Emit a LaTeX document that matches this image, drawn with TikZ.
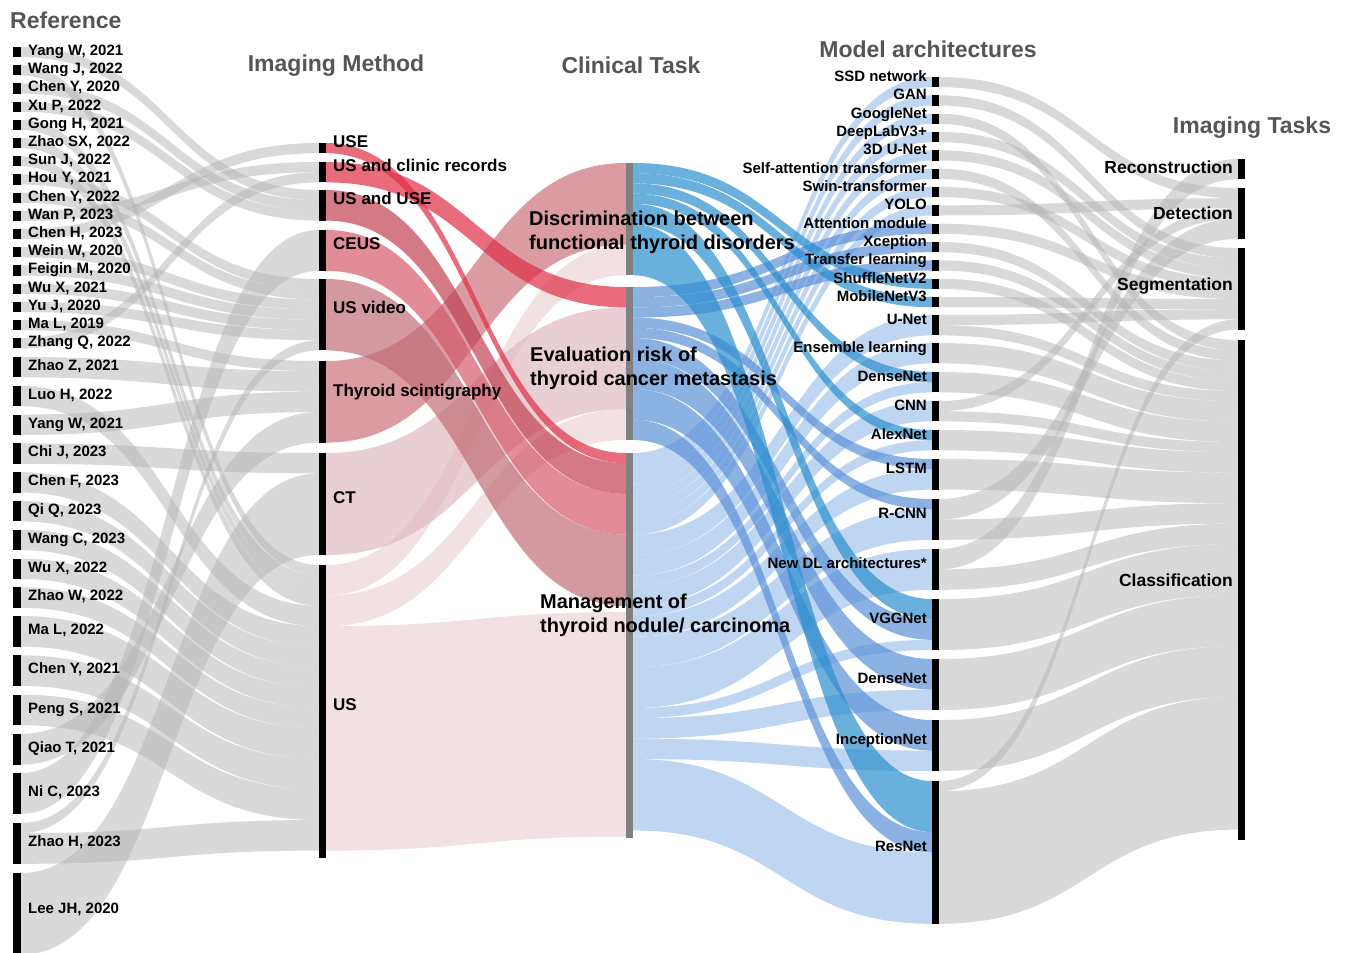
\documentclass[tikz,border=0pt]{standalone}
\usepackage{fontspec}
\setmainfont{Liberation Sans}
\usetikzlibrary{positioning,calc}

\definecolor{flowgray}{RGB}{179,179,179}
\definecolor{taskgray}{RGB}{128,128,128}
\definecolor{titlegray}{RGB}{84,86,86}
\definecolor{pkRed}{RGB}{222,45,68}
\definecolor{pkUSUSE}{RGB}{194,65,81}
\definecolor{pkCEUS}{RGB}{212,91,105}
\definecolor{pkVideo}{RGB}{194,109,119}
\definecolor{pkScint}{RGB}{202,112,122}
\definecolor{pkCT}{RGB}{224,185,192}
\definecolor{pkUS}{RGB}{235,212,215}
\definecolor{blDisc}{RGB}{42,142,206}
\definecolor{blEval}{RGB}{91,145,216}
\definecolor{blMgmt}{RGB}{162,196,236}

\tikzset{
  thbar/.style={
    fill=black, anchor=north west, inner sep=0pt, outer sep=0pt,
    minimum width=7pt, minimum height=#1*10.2pt
  },
  threfbar/.style={thbar=#1, minimum width=8pt},
  thtaskbar/.style={
    fill=taskgray, anchor=north west, inner sep=0pt, outer sep=0pt,
    minimum width=7pt, minimum height=#1
  },
  thgrayflow/.style={fill=flowgray, fill opacity=0.5},
  thflow/.style={fill=#1, fill opacity=0.7},
  threflab/.style={font=\fontsize{15}{18}\selectfont\bfseries, inner sep=0pt,
    text height=10.7pt, text depth=0pt, yshift=2pt},
  thmethlab/.style={font=\fontsize{17}{20}\selectfont\bfseries, inner sep=0pt,
    text height=12.2pt, text depth=0pt, yshift=7pt},
  tharchlab/.style={font=\fontsize{15}{18}\selectfont\bfseries, inner sep=0pt,
    text height=10.7pt, text depth=0pt, yshift=6pt},
  thimglab/.style={font=\fontsize{17.5}{21}\selectfont\bfseries, inner sep=0pt,
    text height=12.5pt, text depth=0pt},
  thtasklab/.style={font=\fontsize{20}{24}\selectfont\bfseries, inner sep=0pt,
    align=left, anchor=north west},
  thtitle/.style={font=\fontsize{23}{27}\selectfont\bfseries, text=titlegray,
    inner sep=0pt, text height=16.5pt, text depth=0pt}
}

% band between two bars: style, source, source offset, target, target offset, width (in units)
\newcommand{\sflow}[6]{%
  \fill[#1] ($(#2.north east)+(0,#3*10.2)$)
    .. controls +(150,0) and +(-150,0) .. ($(#4.north west)+(0,#5*10.2)$)
    -- ++(0,#6*10.2)
    .. controls +(-150,0) and +(150,0) .. ($(#2.north east)+(0,#3*10.2+#6*10.2)$)
    -- cycle;}

\begin{document}
\begin{tikzpicture}[x=1pt,y=-1pt]
\useasboundingbox (0,0) rectangle (1347,953);

% columns
\node[threfbar=1] (r01) at (13,47) {};
\node[threfbar=1] (r02) at (13,65.2) {};
\node[threfbar=1] (r03) at (13,83.4) {};
\node[threfbar=1] (r04) at (13,101.6) {};
\node[threfbar=1] (r05) at (13,119.8) {};
\node[threfbar=1] (r06) at (13,138) {};
\node[threfbar=1] (r07) at (13,156.2) {};
\node[threfbar=1] (r08) at (13,174.4) {};
\node[threfbar=1] (r09) at (13,192.6) {};
\node[threfbar=1] (r10) at (13,210.8) {};
\node[threfbar=1] (r11) at (13,229) {};
\node[threfbar=1] (r12) at (13,247.2) {};
\node[threfbar=1] (r13) at (13,265.4) {};
\node[threfbar=1] (r14) at (13,283.6) {};
\node[threfbar=1] (r15) at (13,301.8) {};
\node[threfbar=1] (r16) at (13,320) {};
\node[threfbar=1] (r17) at (13,338.2) {};
\node[threfbar=2] (r18) at (13,357) {};
\node[threfbar=2] (r19) at (13,385.8) {};
\node[threfbar=2] (r20) at (13,414.6) {};
\node[threfbar=2] (r21) at (13,443.4) {};
\node[threfbar=2] (r22) at (13,472.2) {};
\node[threfbar=2] (r23) at (13,501) {};
\node[threfbar=2] (r24) at (13,529.8) {};
\node[threfbar=2] (r25) at (13,558.6) {};
\node[threfbar=2] (r26) at (13,587.4) {};
\node[threfbar=3] (r27) at (13,616) {};
\node[threfbar=3] (r28) at (13,655.3) {};
\node[threfbar=3] (r29) at (13,694.6) {};
\node[threfbar=3] (r30) at (13,733.9) {};
\node[threfbar=4] (r31) at (13,773) {};
\node[threfbar=4] (r32) at (13,823) {};
\node[threfbar=8] (r33) at (13,873) {};

\node[thbar=1] (mUSE) at (319,143) {};
\node[thbar=2] (mUSclin) at (319,162) {};
\node[thbar=3] (mUSUSE) at (319,190) {};
\node[thbar=4] (mCEUS) at (319,230) {};
\node[thbar=7] (mVideo) at (319,279) {};
\node[thbar=8] (mScint) at (319,361) {};
\node[thbar=10] (mCT) at (319,453) {};
\node[thbar=28.7] (mUS) at (319,565) {};

\node[thtaskbar=112pt] (tDisc) at (626,163) {};
\node[thtaskbar=153pt] (tEval) at (626,287) {};
\node[thtaskbar=385pt] (tMgmt) at (626,453) {};

\node[thbar=1] (aSSD) at (932,77) {};
\node[thbar=1] (aGAN) at (932,95.3) {};
\node[thbar=1] (aGoogle) at (932,113.7) {};
\node[thbar=1] (aDeepLab) at (932,132) {};
\node[thbar=1] (a3DUNet) at (932,150.3) {};
\node[thbar=1] (aSelfAtt) at (932,168.7) {};
\node[thbar=1] (aSwin) at (932,187) {};
\node[thbar=1] (aYOLO) at (932,205.3) {};
\node[thbar=1] (aAttn) at (932,223.7) {};
\node[thbar=1] (aXcep) at (932,242) {};
\node[thbar=1] (aTransfer) at (932,260.3) {};
\node[thbar=1] (aShuffle) at (932,278.7) {};
\node[thbar=1] (aMobile) at (932,297) {};
\node[thbar=2] (aUNet) at (932,315) {};
\node[thbar=2] (aEnsemble) at (932,343) {};
\node[thbar=2] (aDense) at (932,372) {};
\node[thbar=2] (aCNN) at (932,401) {};
\node[thbar=2] (aAlex) at (932,430) {};
\node[thbar=3] (aLSTM) at (932,459) {};
\node[thbar=4] (aRCNN) at (932,499) {};
\node[thbar=4] (aNewDL) at (932,549) {};
\node[thbar=5] (aVGG) at (932,599) {};
\node[thbar=5] (aDense2) at (932,659) {};
\node[thbar=5] (aIncep) at (932,720) {};
\node[thbar=14] (aResNet) at (932,781) {};

\node[thbar=2] (iRecon) at (1238,159) {};
\node[thbar=5] (iDetect) at (1238,188) {};
\node[thbar=8] (iSeg) at (1238,248) {};
\node[thbar=49] (iClass) at (1238,340) {};

% reference -> imaging method
\sflow{thgrayflow}{r01}{0}{mUSUSE}{0}{1}
\sflow{thgrayflow}{r02}{0}{mUS}{0}{1}
\sflow{thgrayflow}{r03}{0}{mUSUSE}{1}{1}
\sflow{thgrayflow}{r04}{0}{mUSUSE}{2}{1}
\sflow{thgrayflow}{r05}{0}{mUS}{1}{1}
\sflow{thgrayflow}{r06}{0}{mUS}{2}{1}
\sflow{thgrayflow}{r07}{0}{mUS}{3}{1}
\sflow{thgrayflow}{r08}{0}{mVideo}{0}{1}
\sflow{thgrayflow}{r09}{0}{mVideo}{1}{1}
\sflow{thgrayflow}{r10}{0}{mUSclin}{0}{1}
\sflow{thgrayflow}{r11}{0}{mUSE}{0}{1}
\sflow{thgrayflow}{r12}{0}{mVideo}{2}{1}
\sflow{thgrayflow}{r13}{0}{mVideo}{3}{1}
\sflow{thgrayflow}{r14}{0}{mVideo}{4}{1}
\sflow{thgrayflow}{r15}{0}{mVideo}{5}{1}
\sflow{thgrayflow}{r16}{0}{mScint}{0}{1}
\sflow{thgrayflow}{r17}{0}{mUSclin}{1}{1}
\sflow{thgrayflow}{r18}{0}{mScint}{1}{2}
\sflow{thgrayflow}{r19}{0}{mUS}{4}{2}
\sflow{thgrayflow}{r20}{0}{mScint}{3}{2}
\sflow{thgrayflow}{r21}{0}{mCT}{0}{2}
\sflow{thgrayflow}{r22}{0}{mUS}{6}{2}
\sflow{thgrayflow}{r23}{0}{mUS}{8}{2}
\sflow{thgrayflow}{r24}{0}{mUS}{10}{2}
\sflow{thgrayflow}{r25}{0}{mUS}{12}{2}
\sflow{thgrayflow}{r26}{0}{mUS}{14}{2}
\sflow{thgrayflow}{r27}{0}{mUS}{16}{3}
\sflow{thgrayflow}{r28}{0}{mUS}{19}{3}
\sflow{thgrayflow}{r29}{0}{mUS}{22}{3}
\sflow{thgrayflow}{r30}{0}{mScint}{5}{3}
\sflow{thgrayflow}{r31}{0}{mCEUS}{0}{4}
\sflow{thgrayflow}{r32}{0}{mVideo}{6}{1}
\sflow{thgrayflow}{r32}{1}{mUS}{25}{3}
\sflow{thgrayflow}{r33}{0}{mCT}{2}{8}

% imaging method -> clinical task
\sflow{thflow=pkUS}{mUS}{0}{tDisc}{8}{3}
\sflow{thflow=pkUS}{mUS}{3}{tEval}{12}{3}
\sflow{thflow=pkUS}{mUS}{6}{tMgmt}{15.6}{22}
\sflow{thflow=pkCT}{mCT}{0}{tEval}{2}{10}
\sflow{thflow=pkScint}{mScint}{0}{tDisc}{0}{8}
\sflow{thflow=pkVideo}{mVideo}{0}{tMgmt}{8}{7}
\sflow{thflow=pkCEUS}{mCEUS}{0}{tMgmt}{4}{4}
\sflow{thflow=pkUSUSE}{mUSUSE}{0}{tMgmt}{1}{3}
\sflow{thflow=pkRed}{mUSclin}{0}{tEval}{0}{2}
\sflow{thflow=pkRed}{mUSE}{0}{tMgmt}{0}{1}

% clinical task -> model architectures
\sflow{thflow=blMgmt}{tMgmt}{0}{aSSD}{0}{1}
\sflow{thflow=blMgmt}{tMgmt}{1}{aGAN}{0}{1}
\sflow{thflow=blMgmt}{tMgmt}{2}{aGoogle}{0}{1}
\sflow{thflow=blMgmt}{tMgmt}{3}{aDeepLab}{0}{1}
\sflow{thflow=blMgmt}{tMgmt}{4}{a3DUNet}{0}{1}
\sflow{thflow=blMgmt}{tMgmt}{5}{aSelfAtt}{0}{1}
\sflow{thflow=blMgmt}{tMgmt}{6}{aSwin}{0}{1}
\sflow{thflow=blMgmt}{tMgmt}{7}{aYOLO}{0}{1}
\sflow{thflow=blMgmt}{tMgmt}{8}{aUNet}{0}{2}
\sflow{thflow=blMgmt}{tMgmt}{10}{aEnsemble}{0}{2}
\sflow{thflow=blMgmt}{tMgmt}{12}{aDense}{1}{1}
\sflow{thflow=blMgmt}{tMgmt}{13}{aCNN}{0}{2}
\sflow{thflow=blMgmt}{tMgmt}{15}{aAlex}{1}{1}
\sflow{thflow=blMgmt}{tMgmt}{16}{aLSTM}{1}{2}
\sflow{thflow=blMgmt}{tMgmt}{18}{aRCNN}{1}{3}
\sflow{thflow=blMgmt}{tMgmt}{21}{aNewDL}{0}{4}
\sflow{thflow=blMgmt}{tMgmt}{25}{aVGG}{4}{1}
\sflow{thflow=blMgmt}{tMgmt}{26}{aDense2}{3}{2}
\sflow{thflow=blMgmt}{tMgmt}{28}{aIncep}{3}{2}
\sflow{thflow=blMgmt}{tMgmt}{30}{aResNet}{7}{7}
\sflow{thflow=blEval}{tEval}{0}{aAttn}{0}{1}
\sflow{thflow=blEval}{tEval}{1}{aXcep}{0}{1}
\sflow{thflow=blEval}{tEval}{2}{aTransfer}{0}{1}
\sflow{thflow=blEval}{tEval}{3}{aLSTM}{0}{1}
\sflow{thflow=blEval}{tEval}{4}{aRCNN}{0}{1}
\sflow{thflow=blEval}{tEval}{5}{aVGG}{2}{2}
\sflow{thflow=blEval}{tEval}{7}{aDense2}{0}{3}
\sflow{thflow=blEval}{tEval}{10}{aIncep}{0}{3}
\sflow{thflow=blEval}{tEval}{13}{aResNet}{5}{2}
\sflow{thflow=blDisc}{tDisc}{0}{aShuffle}{0}{1}
\sflow{thflow=blDisc}{tDisc}{1}{aMobile}{0}{1}
\sflow{thflow=blDisc}{tDisc}{2}{aDense}{0}{1}
\sflow{thflow=blDisc}{tDisc}{3}{aAlex}{0}{1}
\sflow{thflow=blDisc}{tDisc}{4}{aVGG}{0}{2}
\sflow{thflow=blDisc}{tDisc}{6}{aResNet}{0}{5}

% model architectures -> imaging tasks
\sflow{thgrayflow}{aSSD}{0}{iDetect}{0}{1}
\sflow{thgrayflow}{aGAN}{0}{iSeg}{0}{1}
\sflow{thgrayflow}{aGoogle}{0}{iClass}{0}{1}
\sflow{thgrayflow}{aDeepLab}{0}{iSeg}{1}{1}
\sflow{thgrayflow}{a3DUNet}{0}{iSeg}{2}{1}
\sflow{thgrayflow}{aSelfAtt}{0}{iClass}{1}{1}
\sflow{thgrayflow}{aSwin}{0}{iSeg}{3}{1}
\sflow{thgrayflow}{aYOLO}{0}{iDetect}{1}{1}
\sflow{thgrayflow}{aAttn}{0}{iSeg}{4}{1}
\sflow{thgrayflow}{aXcep}{0}{iClass}{2}{1}
\sflow{thgrayflow}{aTransfer}{0}{iClass}{3}{1}
\sflow{thgrayflow}{aShuffle}{0}{iClass}{4}{1}
\sflow{thgrayflow}{aMobile}{0}{iSeg}{5}{1}
\sflow{thgrayflow}{aUNet}{0}{iSeg}{6}{1}
\sflow{thgrayflow}{aUNet}{1}{iClass}{5}{1}
\sflow{thgrayflow}{aEnsemble}{0}{iClass}{6}{2}
\sflow{thgrayflow}{aDense}{0}{iClass}{8}{2}
\sflow{thgrayflow}{aCNN}{0}{iDetect}{2}{1}
\sflow{thgrayflow}{aCNN}{1}{iClass}{10}{1}
\sflow{thgrayflow}{aAlex}{0}{iClass}{11}{2}
\sflow{thgrayflow}{aLSTM}{0}{iClass}{13}{3}
\sflow{thgrayflow}{aRCNN}{0}{iDetect}{3}{2}
\sflow{thgrayflow}{aRCNN}{2}{iClass}{16}{2}
\sflow{thgrayflow}{aNewDL}{0}{iRecon}{0}{2}
\sflow{thgrayflow}{aNewDL}{2}{iClass}{18}{2}
\sflow{thgrayflow}{aVGG}{0}{iClass}{20}{5}
\sflow{thgrayflow}{aDense2}{0}{iClass}{25}{5}
\sflow{thgrayflow}{aIncep}{0}{iClass}{30}{5}
\sflow{thgrayflow}{aResNet}{0}{iSeg}{7}{1}
\sflow{thgrayflow}{aResNet}{1}{iClass}{35}{13}

% bars again on top of the bands
\foreach \b in {r01,r02,r03,r04,r05,r06,r07,r08,r09,r10,r11,r12,r13,r14,r15,r16,r17,
  r18,r19,r20,r21,r22,r23,r24,r25,r26,r27,r28,r29,r30,r31,r32,r33,
  mUSE,mUSclin,mUSUSE,mCEUS,mVideo,mScint,mCT,mUS,
  aSSD,aGAN,aGoogle,aDeepLab,a3DUNet,aSelfAtt,aSwin,aYOLO,aAttn,aXcep,aTransfer,
  aShuffle,aMobile,aUNet,aEnsemble,aDense,aCNN,aAlex,aLSTM,aRCNN,aNewDL,aVGG,
  aDense2,aIncep,aResNet,iRecon,iDetect,iSeg,iClass}
  \fill[black] (\b.north west) rectangle (\b.south east);
\foreach \b in {tDisc,tEval,tMgmt}
  \fill[taskgray] (\b.north west) rectangle (\b.south east);

% labels
\node[threflab,right=7pt of r01] (l01) {Yang W, 2021};
\node[threflab,right=7pt of r02] (l02) {Wang J, 2022};
\node[threflab,right=7pt of r03] (l03) {Chen Y, 2020};
\node[threflab,right=7pt of r04] (l04) {Xu P, 2022};
\node[threflab,right=7pt of r05] (l05) {Gong H, 2021};
\node[threflab,right=7pt of r06] (l06) {Zhao SX, 2022};
\node[threflab,right=7pt of r07] (l07) {Sun J, 2022};
\node[threflab,right=7pt of r08] (l08) {Hou Y, 2021};
\node[threflab,right=7pt of r09] (l09) {Chen Y, 2022};
\node[threflab,right=7pt of r10] (l10) {Wan P, 2023};
\node[threflab,right=7pt of r11] (l11) {Chen H, 2023};
\node[threflab,right=7pt of r12] (l12) {Wein W, 2020};
\node[threflab,right=7pt of r13] (l13) {Feigin M, 2020};
\node[threflab,right=7pt of r14] (l14) {Wu X, 2021};
\node[threflab,right=7pt of r15] (l15) {Yu J, 2020};
\node[threflab,right=7pt of r16] (l16) {Ma L, 2019};
\node[threflab,right=7pt of r17] (l17) {Zhang Q, 2022};
\node[threflab,right=7pt of r18] (l18) {Zhao Z, 2021};
\node[threflab,right=7pt of r19] (l19) {Luo H, 2022};
\node[threflab,right=7pt of r20] (l20) {Yang W, 2021};
\node[threflab,right=7pt of r21] (l21) {Chi J, 2023};
\node[threflab,right=7pt of r22] (l22) {Chen F, 2023};
\node[threflab,right=7pt of r23] (l23) {Qi Q, 2023};
\node[threflab,right=7pt of r24] (l24) {Wang C, 2023};
\node[threflab,right=7pt of r25] (l25) {Wu X, 2022};
\node[threflab,right=7pt of r26] (l26) {Zhao W, 2022};
\node[threflab,right=7pt of r27] (l27) {Ma L, 2022};
\node[threflab,right=7pt of r28] (l28) {Chen Y, 2021};
\node[threflab,right=7pt of r29] (l29) {Peng S, 2021};
\node[threflab,right=7pt of r30] (l30) {Qiao T, 2021};
\node[threflab,right=7pt of r31] (l31) {Ni C, 2023};
\node[threflab,right=7pt of r32] (l32) {Zhao H, 2023};
\node[threflab,right=7pt of r33,yshift=4pt] (l33) {Lee JH, 2020};

\node[thmethlab,right=7pt of mUSE] (lUSE) {USE};
\node[thmethlab,right=7pt of mUSclin] (lUSclin) {US and clinic records};
\node[thmethlab,right=7pt of mUSUSE] (lUSUSE) {US and USE};
\node[thmethlab,right=7pt of mCEUS] (lCEUS) {CEUS};
\node[thmethlab,right=7pt of mVideo] (lVideo) {US video};
\node[thmethlab,right=7pt of mScint,yshift=4pt] (lScint) {Thyroid scintigraphy};
\node[thmethlab,right=7pt of mCT] (lCT) {CT};
\node[thmethlab,right=7pt of mUS] (lUS) {US};

\node[thtasklab] (lDisc) at (529,211) {Discrimination between\\functional thyroid disorders};
\node[thtasklab] (lEval) at (530,347) {Evaluation risk of\\thyroid cancer metastasis};
\node[thtasklab] (lMgmt) at (540,594) {Management of\\thyroid nodule/ carcinoma};

\node[tharchlab,left=5pt of aSSD] (lSSD) {SSD network};
\node[tharchlab,left=5pt of aGAN] (lGAN) {GAN};
\node[tharchlab,left=5pt of aGoogle] (lGoogle) {GoogleNet};
\node[tharchlab,left=5pt of aDeepLab] (lDeepLab) {DeepLabV3+};
\node[tharchlab,left=5pt of a3DUNet] (l3DUNet) {3D U-Net};
\node[tharchlab,left=5pt of aSelfAtt] (lSelfAtt) {Self-attention transformer};
\node[tharchlab,left=5pt of aSwin] (lSwin) {Swin-transformer};
\node[tharchlab,left=5pt of aYOLO] (lYOLO) {YOLO};
\node[tharchlab,left=5pt of aAttn] (lAttn) {Attention module};
\node[tharchlab,left=5pt of aXcep] (lXcep) {Xception};
\node[tharchlab,left=5pt of aTransfer] (lTransfer) {Transfer learning};
\node[tharchlab,left=5pt of aShuffle] (lShuffle) {ShuffleNetV2};
\node[tharchlab,left=5pt of aMobile] (lMobile) {MobileNetV3};
\node[tharchlab,left=5pt of aUNet] (lUNet) {U-Net};
\node[tharchlab,left=5pt of aEnsemble] (lEnsemble) {Ensemble learning};
\node[tharchlab,left=5pt of aDense] (lDense) {DenseNet};
\node[tharchlab,left=5pt of aCNN] (lCNN) {CNN};
\node[tharchlab,left=5pt of aAlex] (lAlex) {AlexNet};
\node[tharchlab,left=5pt of aLSTM] (lLSTM) {LSTM};
\node[tharchlab,left=5pt of aRCNN] (lRCNN) {R-CNN};
\node[tharchlab,left=5pt of aNewDL] (lNewDL) {New DL architectures*};
\node[tharchlab,left=5pt of aVGG] (lVGG) {VGGNet};
\node[tharchlab,left=5pt of aDense2] (lDense2) {DenseNet};
\node[tharchlab,left=5pt of aIncep] (lIncep) {InceptionNet};
\node[tharchlab,left=5pt of aResNet] (lResNet) {ResNet};

\node[thimglab,left=5pt of iRecon,yshift=2pt] (lRecon) {Reconstruction};
\node[thimglab,left=5pt of iDetect] (lDetect) {Detection};
\node[thimglab,left=5pt of iSeg,yshift=5pt] (lSeg) {Segmentation};
\node[thimglab,left=5pt of iClass,yshift=10pt] (lClass) {Classification};

% column titles
\node[thtitle,anchor=west] (hRef) at (10,20) {Reference};
\node[thtitle] (hMeth) at (336,63) {Imaging Method};
\node[thtitle] (hTask) at (631,65) {Clinical Task};
\node[thtitle] (hArch) at (928,49) {Model architectures};
\node[thtitle] (hImg) at (1252,125) {Imaging Tasks};
\end{tikzpicture}
\end{document}
